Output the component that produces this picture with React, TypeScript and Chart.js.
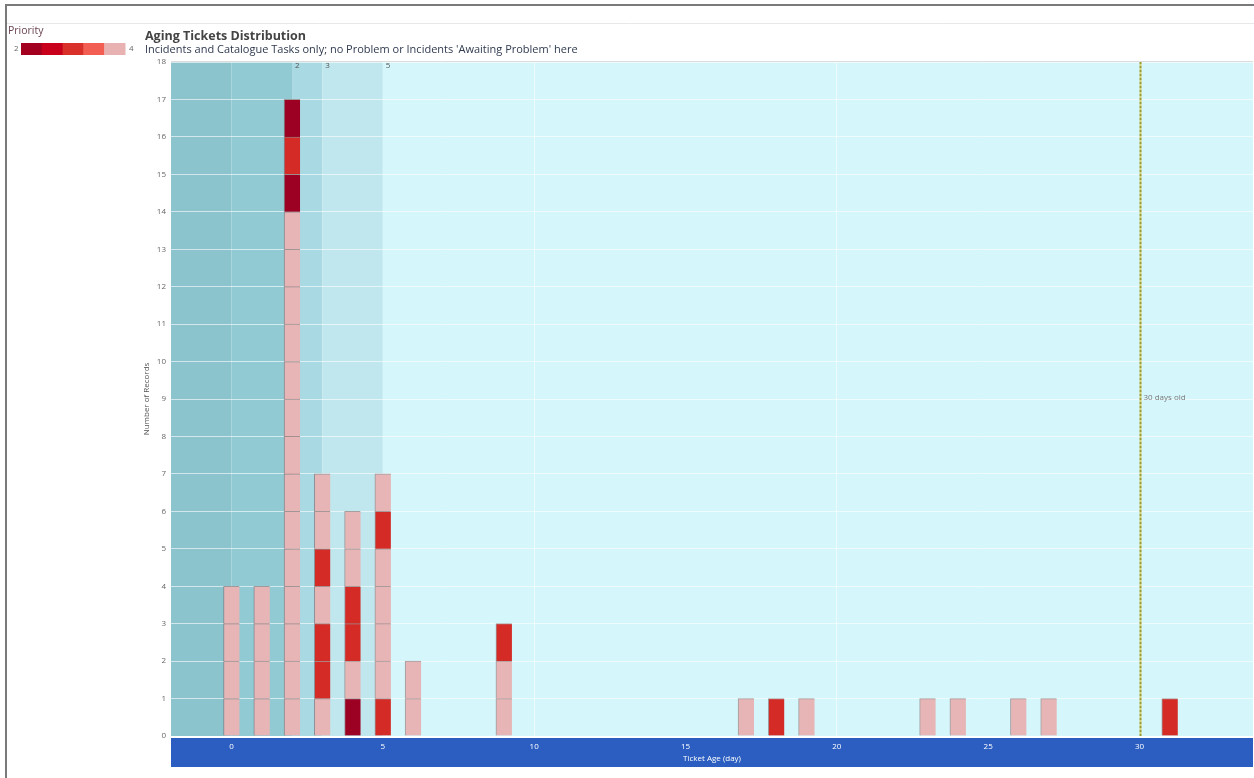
import React, { useEffect, useRef } from 'react';
import { Chart, registerables } from 'chart.js';

Chart.register(...registerables);

// ---- data ----
const days = [0, 1, 2, 3, 4, 5, 6, 9, 17, 18, 19, 23, 24, 26, 27, 31];
// priority of each ticket, stacked bottom to top, one list per day
const stacks: number[][] = [
  [4, 4, 4, 4],
  [4, 4, 4, 4],
  [4, 4, 4, 4, 4, 4, 4, 4, 4, 4, 4, 4, 4, 4, 2, 3, 2],
  [4, 3, 3, 4, 3, 4, 4],
  [2, 4, 3, 3, 4, 4],
  [3, 4, 4, 4, 4, 3, 4],
  [4, 4],
  [4, 4, 3],
  [4],
  [3],
  [4],
  [4],
  [4],
  [4],
  [4],
  [3],
];
const ageBandEdges = [2, 3, 5];
const oldThreshold = 30;
const oldLabel = '30 days old';
const xRange = [-2, 33.75];
const yRange = [0, 18];
const legendMin = '2';
const legendMax = '4';
const titleText = 'Aging Tickets Distribution';
const subtitleText = "Incidents and Catalogue Tasks only; no Problem or Incidents 'Awaiting Problem' here";
const xTitle = 'Ticket Age (day)';
const yTitle = 'Number of Records';

// ---- styles ----
const priorityColors: Record<number, string> = { 2: '#9c0022', 3: '#d42b26', 4: '#e7b5b5' };
const legendColors = ['#a3001f', '#c9001c', '#d9302a', '#f25f52', '#e8b2b2'];
const bandColors = ['#8cc4ce', '#92cad4', '#a9d9e2', '#c1e7ee', '#d5f6fb'];
const FONT = "'Open Sans', 'DejaVu Sans', sans-serif";

export default function App() {
  const ref = useRef<HTMLCanvasElement | null>(null);

  useEffect(() => {
    document.body.style.margin = '0';
    const maxLen = Math.max(...stacks.map((s) => s.length));
    const datasets = [] as any[];
    for (let l = 0; l < maxLen; l++) {
      const data = [] as any[];
      days.forEach((d, i) => {
        const p = stacks[i][l];
        if (p !== undefined) data.push({ x: d, y: 1, p });
      });
      datasets.push({
        label: 'layer' + l,
        data,
        backgroundColor: (ctx: any) => priorityColors[ctx.raw ? ctx.raw.p : 4],
        borderColor: 'rgba(115,85,85,0.55)',
        borderWidth: { top: 1, left: 1, right: 0, bottom: 0 },
        barThickness: 16,
      });
    }

    const decor = {
      id: 'decor',
      beforeDraw(chart: any) {
        const { ctx, chartArea: a, scales } = chart;
        const xs = scales.x;
        ctx.save();
        ctx.fillStyle = '#ffffff';
        ctx.fillRect(0, 0, chart.width, chart.height);
        // frame
        ctx.strokeStyle = '#7a7a7a';
        ctx.lineWidth = 2;
        ctx.beginPath();
        ctx.moveTo(6, 778);
        ctx.lineTo(6, 5);
        ctx.lineTo(1254, 5);
        ctx.stroke();
        ctx.strokeStyle = '#e8e8e8';
        ctx.lineWidth = 1;
        ctx.beginPath();
        ctx.moveTo(7, 23.5);
        ctx.lineTo(1254, 23.5);
        ctx.stroke();
        // age bands
        const edges = [xRange[0], 0, ...ageBandEdges, xRange[1]];
        for (let i = 0; i < edges.length - 1; i++) {
          const x0 = Math.max(a.left, xs.getPixelForValue(edges[i]));
          const x1 = Math.min(a.right, xs.getPixelForValue(edges[i + 1]));
          ctx.fillStyle = bandColors[i];
          ctx.fillRect(x0, a.top, x1 - x0, a.bottom - a.top);
        }
        ctx.strokeStyle = '#dcdcdc';
        ctx.beginPath();
        ctx.moveTo(a.left, a.top - 0.5);
        ctx.lineTo(a.right, a.top - 0.5);
        ctx.stroke();
        // x axis band
        ctx.fillStyle = '#2b5ec0';
        ctx.fillRect(a.left, a.bottom + 2, a.right - a.left, 29);
        ctx.restore();
      },
      afterDraw(chart: any) {
        const { ctx, chartArea: a, scales } = chart;
        const xs = scales.x;
        ctx.save();
        // threshold line
        const tx = Math.round(xs.getPixelForValue(oldThreshold)) + 0.5;
        ctx.lineWidth = 2;
        ctx.setLineDash([2, 2]);
        ctx.strokeStyle = '#9c9a2c';
        ctx.beginPath();
        ctx.moveTo(tx, a.top);
        ctx.lineTo(tx, a.bottom);
        ctx.stroke();
        ctx.lineDashOffset = 2;
        ctx.strokeStyle = '#d6d07a';
        ctx.beginPath();
        ctx.moveTo(tx, a.top);
        ctx.lineTo(tx, a.bottom);
        ctx.stroke();
        ctx.setLineDash([]);
        ctx.fillStyle = '#7a7a7a';
        ctx.font = `8px ${FONT}`;
        ctx.textBaseline = 'middle';
        ctx.textAlign = 'left';
        ctx.fillText(oldLabel, tx + 3, 398);
        // band edge labels
        ctx.fillStyle = '#555';
        ageBandEdges.forEach((e) => {
          ctx.fillText(String(e), xs.getPixelForValue(e) + 3, a.top + 4);
        });
        // title
        ctx.fillStyle = '#444';
        ctx.font = `bold 12.5px ${FONT}`;
        ctx.fillText(titleText, 145, 36);
        ctx.fillStyle = '#2f3a4e';
        ctx.font = `11px ${FONT}`;
        ctx.fillText(subtitleText, 145, 50);
        // legend
        ctx.fillStyle = '#6b4450';
        ctx.font = `10.5px ${FONT}`;
        ctx.fillText('Priority', 8, 31);
        ctx.fillStyle = '#666';
        ctx.font = `8px ${FONT}`;
        ctx.fillText(legendMin, 14, 49);
        ctx.fillText(legendMax, 129, 49);
        const sw = 104 / legendColors.length;
        legendColors.forEach((c, i) => {
          ctx.fillStyle = c;
          ctx.fillRect(21 + i * sw, 43, sw + 0.5, 12);
        });
        ctx.restore();
      },
    };

    const chart = new Chart(ref.current as HTMLCanvasElement, {
      type: 'bar',
      data: { datasets },
      options: {
        animation: false,
        responsive: true,
        maintainAspectRatio: false,
        layout: { padding: { left: 138, top: 62, right: 1, bottom: 11 } },
        plugins: { legend: { display: false }, tooltip: { enabled: false }, title: { display: false } },
        scales: {
          x: {
            type: 'linear',
            stacked: true,
            offset: false,
            min: xRange[0],
            max: xRange[1],
            afterFit: (s: any) => {
              s.height = 31;
              s.paddingLeft = 0;
              s.paddingRight = 0;
            },
            border: { display: false },
            grid: {
              offset: false,
              drawTicks: false,
              color: (c: any) =>
                c.tick && c.tick.value % 10 === 0 && c.tick.value > 0 && c.tick.value < oldThreshold
                  ? 'rgba(255,255,255,0.55)'
                  : 'rgba(0,0,0,0)',
            },
            ticks: {
              stepSize: 5,
              padding: 6,
              color: '#ffffff',
              font: { size: 8, family: FONT },
              callback: (v: any) => (Number(v) % 5 === 0 ? String(v) : ''),
              maxRotation: 0,
              autoSkip: false,
            },
            title: {
              display: true,
              text: xTitle,
              color: '#ffffff',
              font: { size: 8, family: FONT },
              padding: { top: 0, bottom: 3 },
            },
          },
          y: {
            stacked: true,
            min: yRange[0],
            max: yRange[1],
            afterFit: (s: any) => {
              s.width = 33;
            },
            border: { display: false },
            grid: { drawTicks: false, color: 'rgba(255,255,255,0.6)' },
            ticks: {
              stepSize: 1,
              padding: 5,
              color: '#666',
              font: { size: 8, family: FONT },
            },
            title: {
              display: true,
              text: yTitle,
              color: '#555',
              font: { size: 8, family: FONT },
              padding: { top: 4, bottom: 0 },
            },
          },
        },
      } as any,
      plugins: [decor],
    });
    return () => chart.destroy();
  }, []);

  return (
    <div style={{ position: 'fixed', left: 0, top: 0, width: 1254, height: 778 }}>
      <canvas ref={ref} />
    </div>
  );
}
